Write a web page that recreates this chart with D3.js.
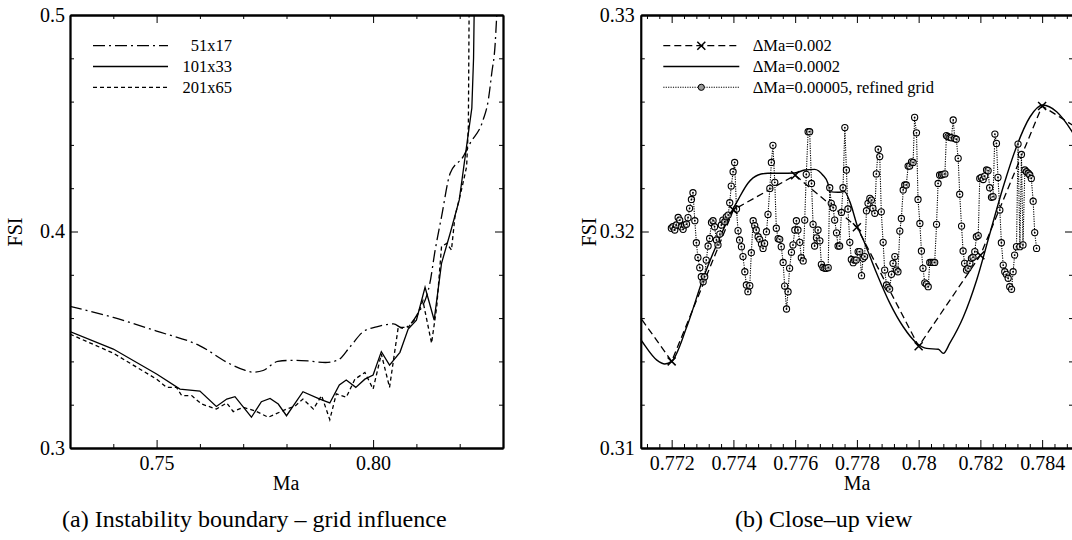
<!DOCTYPE html>
<html>
<head>
<meta charset="utf-8">
<script src="https://cdn.jsdelivr.net/npm/d3@7"></script>
<style>
body { margin: 0; background: #fff; }
svg { display: block; font-family: "Liberation Serif", "Times New Roman", serif; }
svg text { font-family: "Liberation Serif", "Times New Roman", serif; }
</style>
</head>
<body>
<div id="chart-area"></div>
<script>
/*
*    two panels: FSI vs Ma, grid influence (a) and close-up (b)
*/

// ---- panel (a) data ----
var gridNames = ["51x17", "101x33", "201x65"];

var ma51 = [0.730, 0.740, 0.750, 0.760, 0.767, 0.770, 0.7723, 0.7746, 0.778, 0.7815, 0.785, 0.789, 0.7919, 0.7947, 0.7977, 0.8008, 0.8047, 0.8069, 0.8101, 0.8131, 0.8143, 0.8158, 0.8178, 0.8208, 0.8224, 0.8254, 0.8266, 0.8274, 0.8282, 0.8285, 0.8290];
var fsi51 = [0.3654, 0.3603, 0.3540, 0.3472, 0.3388, 0.3362, 0.3350, 0.3358, 0.3400, 0.3405, 0.3402, 0.3395, 0.3406, 0.3468, 0.3537, 0.3560, 0.3573, 0.3553, 0.3614, 0.3760, 0.3910, 0.4068, 0.4269, 0.4346, 0.4407, 0.4515, 0.4607, 0.4731, 0.4869, 0.4977, 0.5120];

var ma101 = [0.730, 0.740, 0.750, 0.7554, 0.760, 0.7638, 0.7662, 0.7681, 0.7719, 0.7742, 0.7762, 0.7781, 0.780, 0.7838, 0.7877, 0.790, 0.7922, 0.7938, 0.796, 0.7981, 0.800, 0.8019, 0.8038, 0.8062, 0.8081, 0.810, 0.8120, 0.8141, 0.8158, 0.8178, 0.8199, 0.8220, 0.8228, 0.8232, 0.8234];
var fsi101 = [0.3538, 0.3457, 0.3342, 0.3272, 0.3263, 0.3192, 0.3226, 0.3237, 0.3142, 0.3214, 0.3229, 0.3203, 0.3149, 0.3260, 0.3226, 0.3208, 0.3291, 0.3314, 0.3280, 0.3318, 0.3337, 0.3445, 0.3383, 0.3442, 0.3549, 0.3590, 0.3742, 0.3591, 0.3853, 0.3992, 0.4146, 0.4454, 0.4570, 0.4800, 0.5100];

var ma201 = [0.730, 0.740, 0.750, 0.7523, 0.7546, 0.7558, 0.7581, 0.7604, 0.7638, 0.7662, 0.7677, 0.770, 0.7727, 0.7758, 0.780, 0.7819, 0.7838, 0.7862, 0.7881, 0.790, 0.7915, 0.7938, 0.7958, 0.7981, 0.800, 0.8019, 0.8038, 0.8058, 0.8081, 0.810, 0.8115, 0.8135, 0.8147, 0.8158, 0.8170, 0.8181, 0.8189, 0.8205, 0.8216, 0.8220, 0.8222];
var fsi201 = [0.3526, 0.3438, 0.3318, 0.3280, 0.3280, 0.3242, 0.3242, 0.3203, 0.3180, 0.3208, 0.3168, 0.3188, 0.3172, 0.3142, 0.3180, 0.3192, 0.3226, 0.3180, 0.3242, 0.3131, 0.3250, 0.3234, 0.3318, 0.3349, 0.3272, 0.3434, 0.3280, 0.3557, 0.3557, 0.3603, 0.3680, 0.3484, 0.3653, 0.3930, 0.3945, 0.3915, 0.4068, 0.4200, 0.4300, 0.4484, 0.5100];

// ---- panel (b) data ----
var stepNames = ["\u0394Ma=0.002", "\u0394Ma=0.0002", "\u0394Ma=0.00005, refined grid"];

var maCoarse = [0.770, 0.772, 0.774, 0.776, 0.778, 0.780, 0.782, 0.784, 0.786];
var fsiCoarse = [0.3180, 0.3140, 0.3210, 0.3226, 0.3202, 0.3147, 0.3189, 0.3258, 0.3240];

var maFine = [0.7705, 0.7710, 0.77152, 0.77178, 0.7720, 0.77249, 0.77302, 0.77357, 0.7740, 0.77415, 0.77447, 0.7748, 0.77512, 0.77555, 0.77598, 0.77631, 0.77663, 0.7769, 0.77706, 0.77712, 0.77739, 0.7776, 0.77777, 0.77804, 0.77821, 0.77864, 0.77907, 0.7795, 0.77994, 0.78026, 0.78064, 0.7808, 0.78101, 0.78145, 0.78188, 0.78231, 0.78274, 0.78317, 0.78361, 0.78402, 0.78447, 0.78497, 0.7855];
var fsiFine = [0.3160, 0.3150, 0.31406, 0.31388, 0.3140, 0.3156, 0.31784, 0.31976, 0.32107, 0.32146, 0.32223, 0.32261, 0.32269, 0.32269, 0.32270, 0.32284, 0.32287, 0.32260, 0.32223, 0.32184, 0.32181, 0.32184, 0.32138, 0.32015, 0.31961, 0.31807, 0.31668, 0.3156, 0.31484, 0.3146, 0.31456, 0.31437, 0.31484, 0.31606, 0.31776, 0.31992, 0.32207, 0.32392, 0.3253, 0.32584, 0.32553, 0.32461, 0.3232];

var maRefined = [
  0.77199, 0.77204, 0.77210, 0.77215, 0.77221, 0.77226, 0.77231, 0.77237, 0.77242, 0.77248,
  0.77253, 0.77258, 0.77264, 0.77269, 0.77275, 0.77280, 0.77285, 0.77291, 0.77296, 0.77302,
  0.77307, 0.77312, 0.77318, 0.77323, 0.77329, 0.77334, 0.77339, 0.77345, 0.77350, 0.77356,
  0.77361, 0.77366, 0.77372, 0.77377, 0.77383, 0.77388, 0.77393, 0.77399, 0.77404, 0.77410,
  0.77415, 0.77420, 0.77426, 0.77431, 0.77437, 0.77442, 0.77447, 0.77453, 0.77458, 0.77464,
  0.77469, 0.77474, 0.77480, 0.77485, 0.77491, 0.77496, 0.77501, 0.77507, 0.77512, 0.77518,
  0.77523, 0.77528, 0.77534, 0.77539, 0.77545, 0.77550, 0.77555, 0.77561, 0.77566, 0.77572,
  0.77577, 0.77582, 0.77588, 0.77593, 0.77599, 0.77604, 0.77609, 0.77615, 0.77620, 0.77626,
  0.77631, 0.77636, 0.77642, 0.77647, 0.77653, 0.77658, 0.77663, 0.77669, 0.77674, 0.77680,
  0.77685, 0.77690, 0.77696, 0.77701, 0.77707, 0.77712, 0.77717, 0.77723, 0.77728, 0.77734,
  0.77739, 0.77744, 0.77750, 0.77755, 0.77761, 0.77766, 0.77771, 0.77777, 0.77782, 0.77788,
  0.77793, 0.77798, 0.77804, 0.77809, 0.77815, 0.77820, 0.77825, 0.77831, 0.77836, 0.77842,
  0.77847, 0.77852, 0.77858, 0.77863, 0.77869, 0.77874, 0.77879, 0.77885, 0.77890, 0.77896,
  0.77901, 0.77906, 0.77912, 0.77917, 0.77923, 0.77928, 0.77933, 0.77939, 0.77944, 0.77950,
  0.77955, 0.77960, 0.77966, 0.77971, 0.77977, 0.77982, 0.77987, 0.77993, 0.77998, 0.78004,
  0.78009, 0.78014, 0.78020, 0.78025, 0.78031, 0.78036, 0.78041, 0.78047, 0.78052, 0.78058,
  0.78063, 0.78068, 0.78074, 0.78079, 0.78085, 0.78090, 0.78095, 0.78101, 0.78106, 0.78112,
  0.78117, 0.78122, 0.78128, 0.78133, 0.78139, 0.78144, 0.78149, 0.78155, 0.78160, 0.78166,
  0.78171, 0.78176, 0.78182, 0.78187, 0.78193, 0.78198, 0.78203, 0.78209, 0.78214, 0.78220,
  0.78225, 0.78230, 0.78236, 0.78241, 0.78247, 0.78252, 0.78257, 0.78263, 0.78268, 0.78274,
  0.78279, 0.78284, 0.78290, 0.78295, 0.78301, 0.78306, 0.78311, 0.78317, 0.78322, 0.78328,
  0.78333, 0.78338, 0.78344, 0.78349, 0.78355, 0.78360, 0.78365, 0.78371, 0.78376, 0.78382
];
var fsiRefined = [
  0.32015, 0.32022, 0.32007, 0.32030, 0.32065, 0.32053, 0.32022, 0.32010, 0.32030, 0.32034,
  0.32064, 0.32107, 0.32148, 0.32179, 0.32050, 0.31948, 0.31880, 0.31833, 0.31791, 0.31768,
  0.31791, 0.31868, 0.31933, 0.31968, 0.32042, 0.32050, 0.32022, 0.31961, 0.31938, 0.31988,
  0.32030, 0.32053, 0.32045, 0.32068, 0.32076, 0.32133, 0.32210, 0.32276, 0.32319, 0.32104,
  0.32004, 0.31961, 0.31930, 0.31884, 0.31814, 0.31753, 0.31722, 0.31750, 0.31902, 0.32050,
  0.32027, 0.32007, 0.31976, 0.31964, 0.31942, 0.31922, 0.31945, 0.31999, 0.32079, 0.32199,
  0.32319, 0.32398, 0.32227, 0.32015, 0.31967, 0.31964, 0.31930, 0.31857, 0.31748, 0.31642,
  0.31722, 0.31830, 0.31904, 0.31938, 0.32007, 0.32050, 0.32007, 0.31950, 0.31879, 0.31864,
  0.32053, 0.32264, 0.32461, 0.32461, 0.32222, 0.32033, 0.31933, 0.31971, 0.32007, 0.31957,
  0.31848, 0.31834, 0.31830, 0.31830, 0.31833, 0.32202, 0.32130, 0.32110, 0.32053, 0.31994,
  0.31933, 0.31933, 0.32088, 0.32202, 0.32480, 0.32284, 0.32104, 0.31950, 0.31871, 0.31856,
  0.31868, 0.31868, 0.31907, 0.31907, 0.31796, 0.31876, 0.31884, 0.32096, 0.32130, 0.32153,
  0.32145, 0.32107, 0.32084, 0.32266, 0.32380, 0.32346, 0.32091, 0.31950, 0.31822, 0.31753,
  0.31742, 0.31734, 0.31802, 0.31853, 0.31884, 0.31822, 0.31814, 0.32002, 0.32060, 0.32192,
  0.32215, 0.32215, 0.32302, 0.32302, 0.32322, 0.32319, 0.32527, 0.32456, 0.32148, 0.32037,
  0.31910, 0.31830, 0.31763, 0.31757, 0.31745, 0.31857, 0.31857, 0.31857, 0.31857, 0.32033,
  0.32222, 0.32261, 0.32261, 0.32264, 0.32266, 0.32443, 0.32438, 0.32435, 0.32433, 0.32515,
  0.32430, 0.32426, 0.32338, 0.32172, 0.32025, 0.31910, 0.31853, 0.31822, 0.31830, 0.31853,
  0.31876, 0.31881, 0.31907, 0.31976, 0.31981, 0.32245, 0.32250, 0.32240, 0.32256, 0.32284,
  0.32281, 0.32202, 0.32158, 0.32161, 0.32450, 0.32407, 0.32250, 0.32099, 0.31948, 0.31845,
  0.31814, 0.31802, 0.31784, 0.31745, 0.31733, 0.31814, 0.31891, 0.31930, 0.32404, 0.31930,
  0.32356, 0.31938, 0.32284, 0.32276, 0.32269, 0.32261, 0.32245, 0.32140, 0.31995, 0.31922
];

// ---- ticks ----
var aXTicks = [0.75, 0.80], aXLabels = ["0.75", "0.80"];
var aYTicks = [0.3, 0.4, 0.5], aYLabels = ["0.3", "0.4", "0.5"];
var aXMinor = [0.74, 0.76, 0.77, 0.78, 0.79, 0.81, 0.82];
var aYMinor = [0.32, 0.34, 0.36, 0.38, 0.42, 0.44, 0.46, 0.48];

var bXTicks = [0.772, 0.774, 0.776, 0.778, 0.780, 0.782, 0.784];
var bXLabels = ["0.772", "0.774", "0.776", "0.778", "0.78", "0.782", "0.784"];
var bYTicks = [0.31, 0.32, 0.33], bYLabels = ["0.31", "0.32", "0.33"];
var bXMinor = d3.range(0.7712, 0.7851, 0.0004).filter(v => Math.abs((v - 0.772) / 0.002 - Math.round((v - 0.772) / 0.002)) > 0.05);
var bYMinor = [0.312, 0.314, 0.316, 0.318, 0.322, 0.324, 0.326, 0.328];

var width = 1072;
var height = 540;
var plotTop = 15, plotBottom = 448;
var serif = "'Liberation Serif', 'Times New Roman', serif";

var svg = d3.select("#chart-area").append("svg")
    .attr("width", width)
    .attr("height", height)

function axes(g, x, y, xt, xl, xm, yt, yl, ym, pad) {
    var x0 = x.range()[0], x1 = x.range()[1];

    // minor ticks all round
    g.append("g").attr("transform", "translate(0," + plotBottom + ")")
        .call(d3.axisBottom(x).tickValues(xm).tickSize(-4).tickSizeOuter(0).tickFormat(""))
    g.append("g").attr("transform", "translate(0," + plotTop + ")")
        .call(d3.axisTop(x).tickValues(xm).tickSize(-4).tickSizeOuter(0).tickFormat(""))
    g.append("g").attr("transform", "translate(" + x0 + ",0)")
        .call(d3.axisLeft(y).tickValues(ym).tickSize(-4).tickSizeOuter(0).tickFormat(""))
    g.append("g").attr("transform", "translate(" + x1 + ",0)")
        .call(d3.axisRight(y).tickValues(ym).tickSize(-4).tickSizeOuter(0).tickFormat(""))

    // major ticks
    g.append("g").attr("class", "x axis").attr("transform", "translate(0," + plotBottom + ")")
        .call(d3.axisBottom(x).tickValues(xt).tickSize(-8).tickSizeOuter(0).tickPadding(8)
            .tickFormat((d, i) => xl[i]))
    g.append("g").attr("transform", "translate(0," + plotTop + ")")
        .call(d3.axisTop(x).tickValues(xt).tickSize(-8).tickSizeOuter(0).tickFormat(""))
    g.append("g").attr("class", "y axis").attr("transform", "translate(" + x0 + ",0)")
        .call(d3.axisLeft(y).tickValues(yt).tickSize(-8).tickSizeOuter(0).tickPadding(pad)
            .tickFormat((d, i) => yl[i]))
    g.append("g").attr("transform", "translate(" + x1 + ",0)")
        .call(d3.axisRight(y).tickValues(yt).tickSize(-8).tickSizeOuter(0).tickFormat(""))

    g.selectAll(".domain").attr("stroke", "#000").attr("stroke-width", 1.8)
    g.selectAll(".tick line").attr("stroke", "#000").attr("stroke-width", 1)
    g.selectAll(".tick text")
        .attr("font-family", serif)
        .attr("font-size", "20px")
        .attr("fill", "#000")
}

function clip(id, x) {
    svg.append("clipPath").attr("id", id).append("rect")
        .attr("x", x.range()[0]).attr("y", plotTop)
        .attr("width", x.range()[1] - x.range()[0])
        .attr("height", plotBottom - plotTop)
}

// ================= panel (a) =================
var xa = d3.scaleLinear().domain([0.73, 0.83]).range([70, 503])
var ya = d3.scaleLinear().domain([0.3, 0.5]).range([plotBottom, plotTop])
clip("clipA", xa)

var ga = svg.append("g")
var linesA = ga.append("g").attr("clip-path", "url(#clipA)")

var lineA = d3.line().x(d => xa(d[0])).y(d => ya(d[1]))
var smoothA = d3.line().curve(d3.curveMonotoneX).x(d => xa(d[0])).y(d => ya(d[1]))

var styleA = [
    {dash: "12,4,2,4", gen: smoothA, ma: ma51, fsi: fsi51},
    {dash: null, gen: lineA, ma: ma101, fsi: fsi101},
    {dash: "4,3", gen: lineA, ma: ma201, fsi: fsi201}
]

styleA.forEach(s => {
    linesA.append("path")
        .datum(d3.zip(s.ma, s.fsi))
        .attr("d", s.gen)
        .attr("fill", "none")
        .attr("stroke", "#000")
        .attr("stroke-width", 1.3)
        .attr("stroke-dasharray", s.dash)
})

axes(ga, xa, ya, aXTicks, aXLabels, aXMinor, aYTicks, aYLabels, aYMinor, 5)

// legend (a)
var legA = ga.append("g")
gridNames.forEach((name, i) => {
    var ly = 45.7 + i * 20.8
    legA.append("line")
        .attr("x1", 93).attr("x2", 168).attr("y1", ly).attr("y2", ly)
        .attr("stroke", "#000").attr("stroke-width", 1.3)
        .attr("stroke-dasharray", styleA[i].dash)
    legA.append("text")
        .attr("x", 232).attr("y", ly).attr("dy", "0.34em")
        .attr("text-anchor", "end")
        .attr("font-size", "16.5px")
        .text(name)
})

// labels (a)
ga.append("text")
    .attr("x", 286).attr("y", 490)
    .attr("text-anchor", "middle")
    .attr("font-size", "20px")
    .text("Ma")

ga.append("text")
    .attr("transform", "translate(15,232) rotate(-90)")
    .attr("dy", "0.35em")
    .attr("text-anchor", "middle")
    .attr("font-size", "20px")
    .text("FSI")

ga.append("text")
    .attr("x", 62).attr("y", 527)
    .attr("font-size", "24px")
    .text("(a) Instability boundary \u2013 grid influence")

// ================= panel (b) =================
var xb = d3.scaleLinear().domain([0.771, 0.785]).range([640.8, 1073])
var yb = d3.scaleLinear().domain([0.31, 0.33]).range([plotBottom, plotTop])
clip("clipB", xb)

var gb = svg.append("g")
var linesB = gb.append("g").attr("clip-path", "url(#clipB)")

var lineB = d3.line().x(d => xb(d[0])).y(d => yb(d[1]))
var smoothB = d3.line().curve(d3.curveMonotoneX).x(d => xb(d[0])).y(d => yb(d[1]))

var coarse = d3.zip(maCoarse, fsiCoarse)
var fine = d3.zip(maFine, fsiFine)
var refined = d3.zip(maRefined, fsiRefined)

linesB.append("path").datum(refined)
    .attr("d", lineB).attr("fill", "none")
    .attr("stroke", "#000").attr("stroke-width", 1.1).attr("stroke-dasharray", "1.2,1.2")

linesB.append("path").datum(coarse)
    .attr("d", lineB).attr("fill", "none")
    .attr("stroke", "#000").attr("stroke-width", 1.3).attr("stroke-dasharray", "7,4")

linesB.append("path").datum(fine)
    .attr("d", smoothB).attr("fill", "none")
    .attr("stroke", "#000").attr("stroke-width", 1.4)

var circ = linesB.selectAll("g.circ").data(refined).enter().append("g")
    .attr("class", "circ")
    .attr("transform", d => "translate(" + xb(d[0]) + "," + yb(d[1]) + ")")
circ.append("circle").attr("r", 3.1)
    .attr("fill", "#fff").attr("fill-opacity", 0.5)
    .attr("stroke", "#000").attr("stroke-width", 1.1)
circ.append("circle").attr("r", 0.9).attr("fill", "#000")

var cross = "M-4,-4L4,4M-4,4L4,-4"
linesB.selectAll("path.cross").data(coarse).enter().append("path")
    .attr("class", "cross")
    .attr("d", cross)
    .attr("transform", d => "translate(" + xb(d[0]) + "," + yb(d[1]) + ")")
    .attr("stroke", "#000").attr("stroke-width", 1.5).attr("fill", "none")

axes(gb, xb, yb, bXTicks, bXLabels, bXMinor, bYTicks, bYLabels, bYMinor, 6)

// legend (b)
var legB = gb.append("g")
var dashB = ["7,4", null, "1.2,1.2"]
stepNames.forEach((name, i) => {
    var ly = 45.7 + i * 20.8
    legB.append("line")
        .attr("x1", 663.3).attr("x2", 739.3).attr("y1", ly).attr("y2", ly)
        .attr("stroke", "#000").attr("stroke-width", i == 2 ? 1.1 : 1.3)
        .attr("stroke-dasharray", dashB[i])
    legB.append("text")
        .attr("x", 752.7).attr("y", ly).attr("dy", "0.34em")
        .attr("font-size", "16.5px")
        .text(name)
})
legB.append("path").attr("d", cross)
    .attr("transform", "translate(701.3,45.7)")
    .attr("stroke", "#000").attr("stroke-width", 1.5)
legB.append("circle").attr("cx", 701.3).attr("cy", 45.7 + 2 * 20.8).attr("r", 3.1)
    .attr("fill", "#999").attr("stroke", "#000").attr("stroke-width", 1)

gb.append("text")
    .attr("x", 857).attr("y", 490)
    .attr("text-anchor", "middle")
    .attr("font-size", "20px")
    .text("Ma")

gb.append("text")
    .attr("transform", "translate(589,232) rotate(-90)")
    .attr("dy", "0.35em")
    .attr("text-anchor", "middle")
    .attr("font-size", "20px")
    .text("FSI")

gb.append("text")
    .attr("x", 735).attr("y", 527)
    .attr("font-size", "24px")
    .text("(b) Close\u2013up view")
</script>
</body>
</html>
